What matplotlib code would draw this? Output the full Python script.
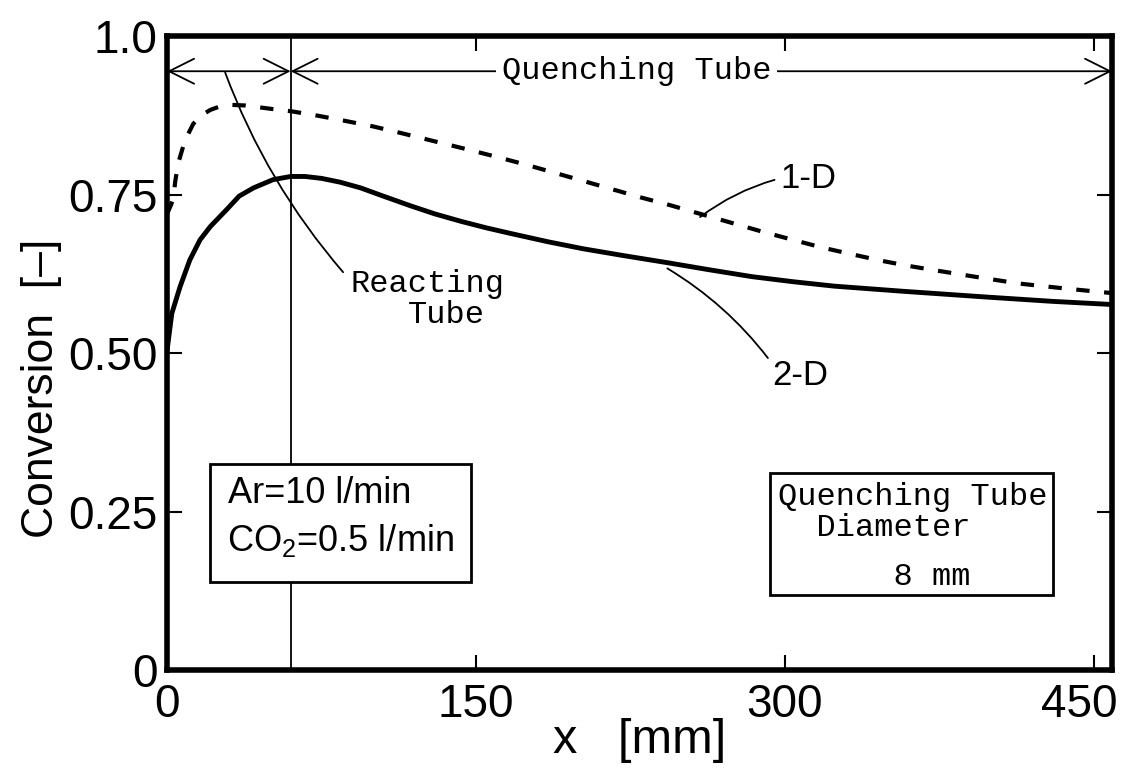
import numpy as np
import matplotlib.pyplot as plt
from matplotlib.patches import Rectangle
from matplotlib.transforms import ScaledTranslation

# 2-D model, conversion vs. axial distance x [mm]
x_2d = [0, 2.3, 6.3, 11, 16, 21, 29, 35, 42, 51.5, 60, 67, 75, 84, 94, 105, 118,
        130, 143, 155, 167, 185, 202, 222, 243, 263, 284, 304, 324, 357, 397,
        430, 459]
conv_2d = [0.505, 0.563, 0.605, 0.647, 0.679, 0.700, 0.727, 0.748, 0.761, 0.774,
           0.779, 0.779, 0.776, 0.770, 0.761, 0.748, 0.733, 0.720, 0.708, 0.698,
           0.689, 0.676, 0.665, 0.654, 0.643, 0.632, 0.621, 0.613, 0.606, 0.598,
           0.589, 0.582, 0.577]

# 1-D model
x_1d = [0, 2, 3.1, 3.9, 5.4, 8.7, 12.7, 17, 21, 26, 30.7, 38, 45, 52, 60, 73, 86,
        100, 113, 128, 143, 160, 175, 188, 201, 215, 230, 244, 259, 274, 289,
        304, 318, 333, 347, 360, 373, 394, 414, 437, 459]
conv_1d = [0.72, 0.735, 0.745, 0.77, 0.80, 0.836, 0.862, 0.876, 0.884, 0.890,
           0.892, 0.891, 0.888, 0.885, 0.882, 0.875, 0.867, 0.858, 0.848, 0.836,
           0.824, 0.810, 0.797, 0.785, 0.773, 0.760, 0.746, 0.734, 0.720, 0.706,
           0.692, 0.679, 0.667, 0.656, 0.646, 0.638, 0.631, 0.620, 0.610, 0.602,
           0.595]

x_ticks = [0, 150, 300, 450]
y_ticks = [0, 0.25, 0.50, 0.75, 1.0]
y_tick_labels = ['0', '0.25', '0.50', '0.75', '1.0']

reacting_end = 60   # mm, end of reacting tube
x_max = 459

sans = ['Liberation Sans', 'DejaVu Sans']
mono = ['Liberation Mono', 'DejaVu Sans Mono']
plt.rcParams['mathtext.fontset'] = 'custom'
plt.rcParams['mathtext.rm'] = 'Liberation Sans'

fig = plt.figure(figsize=(11.29, 7.74), dpi=100)
ax = fig.add_axes([0.148, 0.134, 0.837, 0.819])

ax.plot(x_2d, conv_2d, color='black', lw=3.5, solid_capstyle='round',
        solid_joinstyle='round')
ax.plot(x_1d, conv_1d, color='black', lw=3, dashes=(3.2, 3.5))
ax.axvline(reacting_end, color='black', lw=1.3, zorder=1)

ax.set_xlim(0, x_max)
ax.set_ylim(0, 1.0)
ax.set_xticks(x_ticks)
ax.set_xticklabels([str(t) for t in x_ticks])
ax.set_yticks(y_ticks)
ax.set_yticklabels(y_tick_labels)
ax.tick_params(direction='in', length=11, width=1.5, top=True, right=True,
               labelsize=33, pad=7)
ax.tick_params(axis='x', pad=9)
for lab in ax.get_xticklabels() + ax.get_yticklabels():
    lab.set_family(sans)
# last x label sits tight against the right edge
last = ax.get_xticklabels()[-1]
last.set_transform(last.get_transform() + ScaledTranslation(-14 / 100, 0, fig.dpi_scale_trans))
for sp in ax.spines.values():
    sp.set_linewidth(4)

ax.set_xlabel('x   [mm]', fontsize=35, family=sans, va='top')
ax.xaxis.set_label_coords(0.5, -0.075)
ax.set_ylabel('Conversion  [–]', fontsize=32, family=sans)
ax.yaxis.set_label_coords(-0.111, 0.445)

# quenching / reacting tube arrows
arrow_y = 0.945
head = dict(arrowstyle='<->, head_length=0.6, head_width=0.3', lw=1.3,
            color='black', shrinkA=0, shrinkB=0, mutation_scale=30)
ax.annotate('', xy=(0, arrow_y), xytext=(reacting_end, arrow_y), arrowprops=head)
ax.annotate('', xy=(reacting_end, arrow_y), xytext=(x_max, arrow_y), arrowprops=head)
ax.text(228, arrow_y, 'Quenching Tube', family=mono, fontsize=23, ha='center',
        va='center', bbox=dict(facecolor='white', edgecolor='none', pad=4))

# reacting tube label
ax.annotate('', xy=(28.2, 0.943), xytext=(85.5, 0.628),
            arrowprops=dict(arrowstyle='-', lw=1.3, color='black', shrinkA=0,
                            shrinkB=0, connectionstyle='arc3,rad=-0.09'))
ax.text(88.9, 0.61, 'Reacting', family=mono, fontsize=23, va='center')
ax.text(117, 0.56, 'Tube', family=mono, fontsize=23, va='center')

# curve labels
ax.annotate('1-D', xy=(258.9, 0.715), xytext=(297.7, 0.776), fontsize=25,
            family=sans, ha='left', va='center',
            arrowprops=dict(arrowstyle='-', lw=1.3, color='black', shrinkA=2,
                            shrinkB=0, relpos=(0, 0.5),
                            connectionstyle='arc3,rad=0.1'))
ax.annotate('2-D', xy=(243, 0.634), xytext=(294, 0.465), fontsize=25,
            family=sans, ha='left', va='center',
            arrowprops=dict(arrowstyle='-', lw=1.3, color='black', shrinkA=2,
                            shrinkB=0, relpos=(0, 0.85),
                            connectionstyle='arc3,rad=0.1'))

# flow-rate box
ax.add_patch(Rectangle((20.9, 0.140), 147.6 - 20.9, 0.326 - 0.140,
                       facecolor='white', edgecolor='black', lw=2, zorder=3))
ax.text(29.6, 0.279, 'Ar=10 l/min', family=sans, fontsize=26, va='center', zorder=4)
ax.text(29.1, 0.205, r'CO$_\mathrm{2}$=0.5 l/min', family=sans, fontsize=26,
        va='center', zorder=4)

# diameter box
ax.add_patch(Rectangle((292.9, 0.118), 430.3 - 292.9, 0.312 - 0.118,
                       facecolor='white', edgecolor='black', lw=2, zorder=3))
ax.text(296.7, 0.273, 'Quenching Tube', family=mono, fontsize=23, va='center', zorder=4)
ax.text(296.7, 0.224, '  Diameter', family=mono, fontsize=23, va='center', zorder=4)
ax.text(296.7, 0.147, '      8 mm', family=mono, fontsize=23, va='center', zorder=4)

fig.savefig('out.png', dpi=100)
